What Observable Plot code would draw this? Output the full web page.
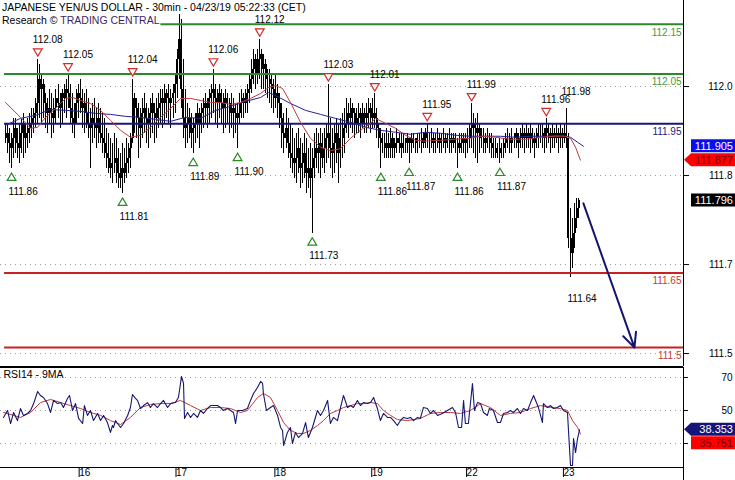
<!DOCTYPE html>
<html><head><meta charset="utf-8">
<script src="https://cdn.jsdelivr.net/npm/d3@7"></script>
<script src="https://cdn.jsdelivr.net/npm/@observablehq/plot@0.6"></script>
<style>
html,body{margin:0;padding:0;background:#fff;}
#chart{position:relative;width:735px;height:480px;overflow:hidden;font-family:"Liberation Sans",Arial,sans-serif;background:#fff;}
#chart svg{position:absolute;left:0;}
.title{position:absolute;left:2px;top:1px;font-size:10.5px;line-height:12.5px;white-space:nowrap;z-index:2;color:#000;}
.tc{color:#3d1f63;}
</style></head><body><div id="chart"><div class="title">JAPANESE YEN/US DOLLAR - 30min - 04/23/19 05:22:33 (CET)<br>Research © <span class="tc">TRADING CENTRAL</span></div></div>
<script>
// ---- price bars (30 min), index 0 = first bar on the 15th ----
const firstOpen = 111.92;
const highs = [
111.95,111.95,111.94,111.93,111.96,111.96,111.94,111.95,111.96,111.97,
111.95,111.96,111.97,111.98,111.98,112.00,112.08,112.07,112.05,112.04,
112.01,112.00,112.02,112.01,112.00,112.02,112.03,112.01,112.02,112.03,
112.04,112.05,112.03,112.01,111.99,112.02,112.03,112.04,112.02,112.01,
112.02,112.00,111.98,111.99,112.00,111.98,111.99,111.98,111.97,111.96,
111.94,111.93,111.92,111.91,111.93,111.92,111.90,111.89,111.91,111.90,
111.92,111.91,111.93,112.04,112.01,112.00,111.99,111.98,112.00,112.01,
111.99,111.98,112.00,112.01,111.99,112.00,112.01,112.02,112.02,112.03,
112.02,112.03,112.02,112.03,112.05,112.10,112.17,112.16,112.08,112.02,
111.99,111.98,111.97,111.96,111.97,111.99,111.98,111.99,112.00,112.01,
112.00,112.02,112.03,112.06,112.03,112.02,112.03,112.02,112.01,112.02,
112.01,112.00,112.01,112.00,111.99,111.99,112.01,112.02,112.01,112.02,
112.03,112.05,112.08,112.10,112.09,112.10,112.12,112.10,112.09,112.08,
112.06,112.06,112.05,112.04,112.05,112.03,112.01,111.99,111.97,111.98,
111.96,111.95,111.94,111.92,111.93,111.94,111.92,111.91,111.93,111.92,
111.90,111.91,111.90,111.93,111.94,111.93,111.94,111.93,111.94,111.95,
112.03,111.96,111.94,111.95,111.96,111.95,111.96,111.97,111.98,112.00,
111.99,112.00,111.99,111.98,111.98,111.99,111.98,111.99,111.98,111.99,
112.00,111.99,112.00,112.01,111.98,111.95,111.94,111.93,111.93,111.94,
111.93,111.94,111.93,111.92,111.94,111.93,111.93,111.93,111.92,111.93,
111.92,111.93,111.93,111.92,111.93,111.93,111.94,111.93,111.94,111.95,
111.93,111.94,111.93,111.93,111.94,111.93,111.93,111.94,111.93,111.93,
111.94,111.93,111.93,111.93,111.92,111.93,111.93,111.93,111.93,111.94,
111.95,111.99,111.97,111.96,111.97,111.95,111.94,111.94,111.93,111.94,
111.93,111.93,111.92,111.92,111.91,111.92,111.91,111.92,111.93,111.94,
111.93,111.94,111.93,111.94,111.93,111.94,111.95,111.94,111.95,111.94,
111.95,111.94,111.93,111.94,111.95,111.95,111.95,111.94,111.96,111.95,
111.94,111.95,111.94,111.95,111.94,111.95,111.94,111.95,111.98,111.93,
111.78,111.76,111.79,111.80,111.80];
const lows = [
111.91,111.89,111.87,111.86,111.88,111.89,111.88,111.87,111.89,111.88,
111.89,111.90,111.91,111.92,111.93,111.94,111.95,111.96,111.95,111.96,
111.94,111.93,111.95,111.92,111.93,111.95,111.96,111.94,111.95,111.97,
111.96,111.98,111.95,111.93,111.92,111.95,111.96,111.97,111.94,111.93,
111.94,111.92,111.86,111.91,111.92,111.90,111.91,111.91,111.89,111.88,
111.86,111.85,111.84,111.83,111.85,111.83,111.82,111.82,111.81,111.83,
111.84,111.85,111.86,111.91,111.93,111.92,111.88,111.90,111.92,111.93,
111.91,111.90,111.92,111.93,111.91,111.92,111.94,111.95,111.94,111.95,
111.96,111.95,111.94,111.96,111.97,112.00,112.04,111.98,111.92,111.90,
111.91,111.92,111.90,111.89,111.91,111.92,111.90,111.93,111.94,111.95,
111.94,111.95,111.96,111.97,111.95,111.94,111.96,111.95,111.93,111.94,
111.95,111.93,111.94,111.92,111.93,111.90,111.95,111.96,111.96,111.97,
111.97,111.99,112.01,112.03,112.02,112.03,112.04,112.02,112.02,112.01,
112.00,111.99,111.98,111.97,111.98,111.96,111.94,111.90,111.89,111.90,
111.88,111.86,111.85,111.84,111.83,111.85,111.82,111.83,111.84,111.81,
111.82,111.80,111.73,111.84,111.86,111.85,111.84,111.86,111.85,111.87,
111.88,111.86,111.84,111.85,111.87,111.83,111.86,111.88,111.89,111.93,
111.92,111.94,111.93,111.92,111.93,111.93,111.92,111.94,111.93,111.93,
111.94,111.93,111.94,111.94,111.92,111.90,111.86,111.89,111.88,111.88,
111.88,111.88,111.88,111.88,111.89,111.89,111.88,111.89,111.89,111.89,
111.87,111.89,111.90,111.89,111.89,111.90,111.89,111.90,111.90,111.90,
111.89,111.90,111.89,111.89,111.90,111.89,111.89,111.90,111.89,111.90,
111.89,111.89,111.90,111.89,111.86,111.89,111.89,111.89,111.88,111.89,
111.90,111.90,111.89,111.88,111.87,111.89,111.90,111.89,111.89,111.90,
111.89,111.88,111.88,111.88,111.88,111.87,111.88,111.88,111.89,111.90,
111.89,111.89,111.90,111.90,111.88,111.90,111.90,111.89,111.90,111.90,
111.89,111.90,111.88,111.90,111.90,111.91,111.90,111.89,111.90,111.91,
111.89,111.90,111.90,111.91,111.89,111.90,111.90,111.91,111.90,111.70,
111.64,111.66,111.70,111.74,111.76];
const closes = [
111.93,111.91,111.90,111.92,111.94,111.91,111.90,111.93,111.95,111.92,
111.93,111.94,111.95,111.96,111.97,111.99,112.04,112.02,112.03,111.99,
111.97,111.98,111.97,111.96,111.98,112.00,111.99,111.98,112.01,112.00,
112.02,112.01,111.98,111.96,111.95,111.99,112.01,112.00,111.98,111.99,
111.97,111.95,111.94,111.96,111.95,111.94,111.96,111.93,111.92,111.91,
111.89,111.88,111.86,111.87,111.88,111.85,111.84,111.86,111.85,111.87,
111.88,111.90,111.92,112.00,111.98,111.96,111.94,111.97,111.98,111.96,
111.95,111.97,111.99,111.97,111.96,111.98,111.99,112.00,111.99,112.01,
112.00,111.99,112.00,112.01,112.03,112.08,112.12,112.02,111.96,111.94,
111.95,111.96,111.93,111.94,111.95,111.97,111.95,111.97,111.98,111.99,
111.98,112.00,112.01,112.02,112.00,111.99,112.01,111.99,111.98,112.00,
111.99,111.97,111.98,111.97,111.96,111.97,111.99,112.00,111.99,112.01,
112.02,112.04,112.06,112.08,112.05,112.08,112.09,112.06,112.07,112.04,
112.04,112.03,112.02,112.00,112.01,111.99,111.96,111.93,111.92,111.94,
111.91,111.89,111.88,111.87,111.88,111.90,111.86,111.87,111.89,111.85,
111.86,111.84,111.86,111.88,111.90,111.89,111.91,111.88,111.90,111.92,
111.93,111.90,111.89,111.91,111.93,111.89,111.92,111.94,111.95,111.97,
111.96,111.98,111.97,111.95,111.96,111.97,111.95,111.97,111.96,111.97,
111.98,111.96,111.97,111.96,111.94,111.92,111.91,111.91,111.90,111.91,
111.90,111.92,111.90,111.91,111.92,111.91,111.90,111.91,111.91,111.92,
111.91,111.92,111.91,111.91,111.92,111.92,111.92,111.91,111.93,111.92,
111.92,111.92,111.91,111.92,111.92,111.91,111.92,111.92,111.91,111.92,
111.92,111.91,111.92,111.91,111.90,111.91,111.92,111.91,111.92,111.92,
111.94,111.95,111.94,111.93,111.94,111.92,111.92,111.91,111.92,111.92,
111.91,111.90,111.90,111.89,111.89,111.90,111.90,111.91,111.92,111.92,
111.91,111.92,111.92,111.93,111.91,111.92,111.93,111.92,111.93,111.92,
111.93,111.92,111.91,111.92,111.93,111.93,111.93,111.92,111.94,111.93,
111.92,111.93,111.92,111.93,111.92,111.93,111.92,111.93,111.92,111.72,
111.69,111.73,111.76,111.78,111.796];

// moving averages on price: [bar index, value]
const redMa = [[0,111.993],[7.4,111.963],[12.4,111.941],[15.9,111.943],[19.8,111.963],[24.8,111.981],[29.7,112.001],[33.2,112.003],[37.2,111.997],[42.1,111.991],[47.1,111.977],[52,111.957],[57,111.937],[61.9,111.923],[66.9,111.927],[71.9,111.943],[76.8,111.963],[81.8,111.981],[86.7,112.001],[91.7,112.001],[96.6,111.997],[101.6,111.993],[106.5,111.993],[111.5,111.989],[116.5,111.993],[121.4,112.001],[126.4,112.011],[130.3,112.023],[133.8,112.027],[137.3,112.021],[141.2,111.993],[146.2,111.953],[151.1,111.921],[156.1,111.903],[161,111.896],[166,111.900],[171,111.921],[175.9,111.937],[180.9,111.951],[183.3,111.961],[188.3,111.951],[193.3,111.941],[198.2,111.927],[203.2,111.917],[208.1,111.915],[215.6,111.917],[223,111.919],[230.4,111.921],[235.4,111.925],[242.8,111.923],[250.2,111.919],[257.7,111.919],[265.1,111.923],[272.5,111.925],[277.5,111.925],[280,111.921],[282.5,111.903],[284.9,111.877]];
const blueMa = [[0,111.947],[7.4,111.961],[14.9,111.967],[22.3,111.979],[29.7,111.977],[37.2,111.975],[44.6,111.971],[52,111.969],[59.5,111.965],[66.9,111.963],[74.3,111.959],[81.8,111.955],[89.2,111.963],[96.6,111.961],[104.1,111.977],[111.5,111.985],[118.9,111.995],[126.4,112.003],[130.3,112.013],[133.8,112.007],[141.2,111.991],[148.7,111.977],[156.1,111.969],[163.5,111.961],[171,111.953],[178.4,111.943],[185.8,111.937],[193.3,111.933],[200.7,111.929],[208.1,111.933],[215.6,111.931],[223,111.927],[230.4,111.925],[237.9,111.925],[245.3,111.925],[252.7,111.923],[260.2,111.925],[267.6,111.925],[275,111.927],[280,111.923],[283.5,111.913],[286.4,111.905]];

// RSI14 and its 9MA: [bar index, value]
const rsiLine = [[-1,45.8],[1,50.0],[2.5,42.1],[4,48.8],[5.9,43.9],[7.4,51.2],[8.9,47.0],[10.9,48.2],[12.4,50.0],[13.9,54.2],
[15.9,61.5],[17.3,59.1],[18.8,57.9],[20.8,54.2],[22.3,48.8],[23.8,56.1],[25.8,54.2],[27.3,54.8],[28.7,51.8],[30.7,57.3],
[31.7,59.1],[33.2,50.0],[34.7,54.2],[36.2,45.2],[38.2,42.1],[39.1,53.0],[40.6,47.0],[42.1,50.0],[43.6,43.9],[45.6,48.2],
[47.1,43.9],[48.6,47.0],[50.5,42.7],[52,36.7],[53,40.9],[53.5,39.7],[54.5,43.9],[55.5,42.1],[57,39.7],[58.5,42.1],
[60.5,47.0],[61.9,51.8],[62.9,59.7],[64.4,57.3],[65.4,56.1],[66.9,51.2],[68.4,53.0],[70.4,54.8],[71.8,51.8],[73.3,54.2],
[75.3,51.8],[76.8,54.2],[78.3,56.1],[80.3,51.8],[81.8,54.2],[84.2,54.8],[85.7,57.9],[87.2,70.6],[88.2,66.4],[88.7,45.2],
[90.2,48.8],[91.7,45.8],[93.2,48.2],[95.1,45.8],[96.6,50.0],[98.1,48.2],[100.1,51.2],[101.6,53.0],[105.1,53.0],[106.5,51.8],
[108,50.0],[110,51.2],[111.5,50.0],[113,48.8],[114,42.1],[115,50.0],[117.4,50.0],[119.9,51.2],[121.4,56.1],[122.9,60.3],
[124.9,63.9],[126.4,67.6],[127.4,66.4],[127.8,60.3],[129.3,50.0],[131.3,51.8],[132.8,53.0],[134.8,47.0],[136.3,39.7],[137.3,37.9],
[137.8,28.8],[139.7,36.7],[141.2,39.7],[142.2,30.0],[143.7,36.7],[145.2,33.6],[147.2,36.1],[148.7,42.7],[150.1,33.6],[152.1,39.7],
[154.6,50.0],[156.1,47.0],[157.6,50.0],[159.6,56.1],[161,42.1],[162.5,45.8],[164.5,43.9],[166,51.8],[167.5,59.1],[169.5,51.8],
[171,53.0],[172.4,51.8],[174.4,56.1],[175.9,53.0],[177.4,54.8],[179.4,54.2],[180.9,54.8],[182.4,57.9],[184.3,51.2],[185.8,43.9],
[187.3,48.2],[189.3,45.8],[190.8,45.8],[192.3,43.9],[194.2,40.9],[195.7,43.9],[197.2,45.8],[199.2,45.2],[200.7,45.8],[202.2,43.9],
[204.2,45.8],[205.6,45.2],[207.1,51.8],[209.1,51.2],[210.6,48.2],[212.1,50.0],[214.1,47.0],[216.5,48.2],[219,50.0],[221.5,51.8],
[223,48.8],[224.5,39.7],[226,39.7],[227,56.1],[227.9,42.1],[229.4,42.1],[231.4,66.4],[232.4,50.0],[233.9,54.8],[235.4,54.2],
[236.9,48.8],[238.8,47.0],[239.8,51.2],[241.8,50.0],[243.8,42.7],[245.3,42.7],[246.8,48.2],[248.8,48.8],[250.2,50.0],[251.7,48.8],
[253.7,51.2],[255.2,48.2],[256.7,51.2],[258.7,50.0],[260.2,54.8],[261.7,59.1],[263.1,54.8],[264.1,51.8],[266.1,42.7],[266.6,54.2],
[268.6,51.8],[270.1,53.0],[271.6,51.2],[273.5,51.8],[275,53.0],[276.5,50.0],[278.5,48.8],[279,37.9],[280,16.7],[281,16.7],
[281.5,33.0],[282.5,24.5],[283.5,33.0],[284.5,38.353]];
const rsiMa = [[-1,48.8],[7.4,45.8],[12.4,48.8],[17.3,54.8],[22.3,56.7],[27.3,54.8],[32.2,53.0],[37.2,51.2],[42.1,48.8],[47.1,47.0],[52,43.9],[57,41.5],[61.9,45.8],[66.9,51.8],[71.8,53.6],[76.8,54.2],[81.8,54.2],[86.7,56.1],[91.7,53.0],[96.6,50.0],[101.6,51.8],[106.5,51.8],[111.5,51.2],[116.5,48.8],[119.9,50.0],[124.9,57.9],[127.8,60.3],[131.3,57.9],[134.8,50.0],[137.8,42.7],[141.2,37.9],[144.7,36.1],[147.7,36.1],[151.1,37.9],[154.6,40.9],[157.6,43.9],[161,48.2],[164.5,50.0],[167.5,51.8],[171,53.0],[174.4,54.2],[177.4,54.2],[180.9,54.8],[184.3,54.2],[187.3,50.0],[190.8,47.0],[194.2,44.5],[199.2,43.9],[205.6,45.2],[210.6,48.2],[215.6,48.8],[220.5,48.8],[225.5,48.2],[230.4,50.0],[235.4,54.2],[240.3,51.8],[245.3,47.0],[250.2,48.2],[255.2,48.8],[260.2,51.2],[265.1,53.0],[270.1,51.8],[275,51.2],[278.5,50.0],[281,43.9],[283.5,39.7],[285,35.751]];

// annotations
const peakIdx = [16, 31, 63, 103, 126, 160, 183, 209, 231, 268];
const peakVal = [112.08, 112.05, 112.04, 112.06, 112.12, 112.03, 112.01, 111.95, 111.99, 111.96];
const troughIdx = [3, 58, 93, 115, 152, 186, 200, 224, 245];
const troughVal = [111.86, 111.81, 111.89, 111.90, 111.73, 111.86, 111.87, 111.86, 111.87];
const lastHighIdx = [278], lastHighVal = [111.98];
const lastLowIdx = [280], lastLowVal = [111.64];

// support / resistance levels
const levels = [112.15, 112.05, 111.95, 111.65, 111.5];
const levelLabels = ["112.15", "112.05", "111.95", "111.65", "111.5"];
const levelStart = [77, -0.5, -0.5, -0.5, -0.5];
const levelColors = ["#2a8a2a", "#2a8a2a", "#16167e", "#cc1f1f", "#cc1f1f"];
const levelTextColors = ["#3f9b3f", "#3f9b3f", "#22227e", "#c43a3a", "#c43a3a"];

// projection arrow
const projIdx = [286.4, 311.7];
const projVal = [111.79, 111.50];

// axes (the 30 label of the RSI axis is hidden under the value boxes in the original)
const priceTicks = [112.025, 111.846, 111.667, 111.488];
const priceTickLabels = ["112.0", "111.8", "111.7", "111.5"];
const rsiTicks = [70, 50, 30];
const rsiTickLabels = ["70", "50", ""];
const dayIdx = [35, 83, 132, 180, 227, 275];
const dayLabels = ["16", "17", "18", "19", "22", "23"];

// last-value boxes
const priceBoxVals = [111.905, 111.877, 111.796];
const priceBoxFill = ["#0c0cf0", "#ff0000", "#000000"];
const priceBoxText = ["#ffffff", "#7a0000", "#ffffff"];
const priceBoxArrow = [false, true, false];
const rsiBoxVals = [38.353, 35.751];
const rsiBoxFill = ["#14147a", "#ff0000"];
const rsiBoxText = ["#ffffff", "#7a0000"];
const rsiBoxArrow = [true, false];

// ---- build ----
const xDomain = [-2.5, 336];
const yDomain = [111.462, 112.198];
const rsiDomain = [15.45, 76.06];
const FONT = "Liberation Sans, Arial, sans-serif";

const bars = highs.map((h, i) => ({i, high: h, low: lows[i], close: closes[i], open: i ? closes[i - 1] : firstOpen}));
const levelData = levels.map((v, k) => ({v, label: levelLabels[k], start: levelStart[k], color: levelColors[k], tcolor: levelTextColors[k]}));
const peaks = peakIdx.map((x, k) => ({x, v: peakVal[k]}));
const troughs = troughIdx.map((x, k) => ({x, v: troughVal[k]}));
const lastHigh = lastHighIdx.map((x, k) => ({x, v: lastHighVal[k]}));
const lastLow = lastLowIdx.map((x, k) => ({x, v: lastLowVal[k]}));
const proj = [{x1: projIdx[0], y1: projVal[0], x2: projIdx[1], y2: projVal[1]}];

const triDown = {draw(c, size) { const r = Math.sqrt(size) / 2; c.moveTo(-r * 1.1, -r * 0.85); c.lineTo(r * 1.1, -r * 0.85); c.lineTo(0, r * 1.0); c.closePath(); }};
const triUp = {draw(c, size) { const r = Math.sqrt(size) / 2; c.moveTo(-r * 1.1, r * 0.85); c.lineTo(r * 1.1, r * 0.85); c.lineTo(0, -r * 1.0); c.closePath(); }};

function valueBoxes(vals, fills, texts, arrows) {
  return (index, scales, channels, dims) => {
    const g = d3.create("svg:g").attr("font-size", 11).attr("font-family", FONT);
    const x0 = dims.width - dims.marginRight;
    const left = x0 + 8, right = dims.width, h = 13;
    let prev = -Infinity;
    vals.forEach((v, k) => {
      let cy = scales.y(v);
      if (cy < prev + h + 0.5) cy = prev + h + 0.5;
      prev = cy;
      const t = cy - h / 2, b = cy + h / 2;
      const d = arrows[k]
        ? `M${x0 + 1},${cy}L${left},${t}H${right}V${b}H${left}Z`
        : `M${left},${t}H${right}V${b}H${left}Z`;
      g.append("path").attr("d", d).attr("fill", fills[k]);
      g.append("text").attr("x", right - 2).attr("y", cy).attr("dy", "0.36em")
        .attr("text-anchor", "end").attr("fill", texts[k]).text(v.toFixed(3));
    });
    return g.node();
  };
}

const main = Plot.plot({
  width: 735, height: 367,
  marginLeft: 0, marginRight: 52, marginTop: 0, marginBottom: 1,
  x: {domain: xDomain, axis: null},
  y: {domain: yDomain, axis: null},
  color: {type: "identity"},
  style: {fontFamily: FONT, fontSize: "10px", background: "white", overflow: "visible"},
  marks: [
    Plot.ruleY(priceTicks, {stroke: "#9a9a9a", strokeDasharray: "1,4"}),
    Plot.ruleX(bars, {x: "i", y1: "low", y2: "high", stroke: "#000", strokeWidth: 1, shapeRendering: "crispEdges"}),
    Plot.ruleX(bars, {x: "i", y1: "open", y2: "close", stroke: "#000", strokeWidth: 2, shapeRendering: "crispEdges"}),
    Plot.ruleY(levelData, {y: "v", x1: "start", x2: xDomain[1], stroke: "color", strokeWidth: 2}),
    Plot.text(levelData, {y: "v", text: "label", frameAnchor: "right", textAnchor: "end", dx: -2, dy: 8, fill: "tcolor", fontSize: 10}),
    Plot.line(blueMa, {x: d => d[0], y: d => d[1], stroke: "#23239a", strokeWidth: 1}),
    Plot.line(redMa, {x: d => d[0], y: d => d[1], stroke: "#c03a3a", strokeWidth: 1}),
    Plot.dot(peaks, {x: "x", y: "v", symbol: triDown, r: 4.5, stroke: "#d42a2a", fill: "white", strokeWidth: 1.2, dy: -7}),
    Plot.text(peaks, {x: "x", y: "v", text: d => d.v.toFixed(2), textAnchor: "start", dx: -5, dy: -19, fontSize: 10}),
    Plot.dot(troughs, {x: "x", y: "v", symbol: triUp, r: 4.5, stroke: "#2a8a2a", fill: "white", strokeWidth: 1.2, dy: 8.5}),
    Plot.text(troughs, {x: "x", y: "v", text: d => d.v.toFixed(2), textAnchor: "start", dx: -3, dy: 23, fontSize: 10}),
    Plot.text(lastHigh, {x: "x", y: "v", text: d => d.v.toFixed(2), textAnchor: "start", dx: -5, dy: -17, fontSize: 10}),
    Plot.text(lastLow, {x: "x", y: "v", text: d => d.v.toFixed(2), textAnchor: "start", dx: -3, dy: 21, fontSize: 10}),
    Plot.arrow(proj, {x1: "x1", y1: "y1", x2: "x2", y2: "y2", stroke: "#14146e", strokeWidth: 2, headLength: 12, headAngle: 50}),
    Plot.ruleX([xDomain[1]], {stroke: "#000"}),
    Plot.ruleY([yDomain[0]], {stroke: "#000"}),
    Plot.axisY(priceTicks, {anchor: "right", tickSize: 5, tickPadding: 44, textAnchor: "end", fontSize: 10,
      tickFormat: d => priceTickLabels[priceTicks.indexOf(d)]}),
    valueBoxes(priceBoxVals, priceBoxFill, priceBoxText, priceBoxArrow)
  ]
});
main.style.top = "0px";

const rsiSpan = rsiDomain[1] - rsiDomain[0];
const rsi = Plot.plot({
  width: 735, height: 113,
  marginLeft: 0, marginRight: 52, marginTop: 0, marginBottom: 13,
  x: {domain: xDomain, axis: null},
  y: {domain: rsiDomain, axis: null},
  style: {fontFamily: FONT, fontSize: "10px", background: "transparent", overflow: "visible"},
  marks: [
    Plot.ruleY(rsiTicks, {stroke: "#9a9a9a", strokeDasharray: "1,4"}),
    Plot.line(rsiMa, {x: d => d[0], y: d => d[1], stroke: "#c03a3a", strokeWidth: 1}),
    Plot.line(rsiLine, {x: d => d[0], y: d => d[1], stroke: "#16166e", strokeWidth: 1.1}),
    Plot.ruleY([rsiDomain[1], rsiDomain[0]], {stroke: "#000", x2: xDomain[1], x1: xDomain[0]}),
    Plot.ruleX([xDomain[1]], {stroke: "#000", y1: rsiDomain[0] - rsiSpan * 0.14, y2: rsiDomain[1]}),
    Plot.axisY(rsiTicks, {anchor: "right", tickSize: 4, tickPadding: 45, textAnchor: "end", fontSize: 10,
      tickFormat: d => rsiTickLabels[rsiTicks.indexOf(d)]}),
    Plot.axisX(dayIdx, {anchor: "bottom", tickSize: 10, tickPadding: -9, textAnchor: "start", dx: 3, fontSize: 10,
      tickFormat: d => dayLabels[dayIdx.indexOf(d)]}),
    Plot.text(["RSI14 - 9MA"], {frameAnchor: "top-left", dx: 3, dy: 3, lineAnchor: "top", fontSize: 10.5}),
    valueBoxes(rsiBoxVals, rsiBoxFill, rsiBoxText, rsiBoxArrow)
  ]
});
rsi.style.top = "367px";

const chart = document.getElementById("chart");
chart.appendChild(main);
chart.appendChild(rsi);
</script></body></html>
